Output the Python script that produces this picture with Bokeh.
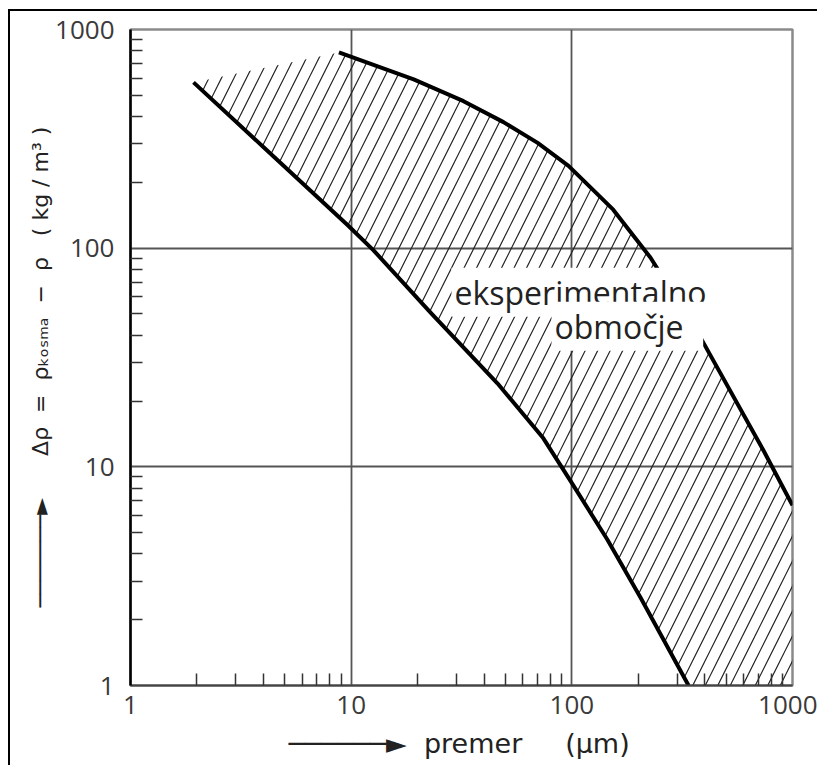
import math
from bokeh.plotting import figure
from bokeh.models import FixedTicker, Label, Title, Range1d, NumeralTickFormatter
from bokeh.embed import file_html
from bokeh.resources import INLINE

# ---- data ----
x_ticks = [1, 10, 100, 1000]
y_ticks = [1, 10, 100, 1000]
x_minor = [2, 3, 4, 5, 6, 7, 8, 9, 20, 30, 40, 50, 60, 70, 80, 90,
           200, 300, 400, 500, 600, 700, 800, 900]
y_minor = x_minor

# lower boundary of the experimental region
lower_x = [1.93, 4.0, 9.6, 12.6, 22.9, 46, 74.3, 98.6, 145, 205, 338]
lower_y = [573, 290, 128, 98, 50.7, 24.1, 13.5, 8.63, 4.64, 2.52, 1.0]
# upper boundary of the experimental region
upper_x = [8.8, 19.2, 32.3, 49, 70, 96.6, 154, 227, 371, 738, 1000]
upper_y = [785, 591, 470, 377, 303, 238, 150, 90.6, 41.3, 11.9, 6.67]

NB = "\u00a0"  # non-breaking space keeps the wide spacing of the original
region_label_1 = "eksperimentalno"
region_label_2 = "območje"
x_title = "──────►" + NB * 2 + "premer" + NB * 5 + "(μm)"
y_title = ("───────►" + NB * 6 + "Δρ" + NB * 2 + "=" + NB * 2 + "ρₖₒₛₘₐ" + NB * 2
           + "−" + NB * 2 + "ρ" + NB * 3 + "(" + NB + "kg" + NB + "/" + NB + "m³" + NB + ")")

# ---- layout (page pixels -> data coordinates of the log axes) ----
FX0, FX1, FY0, FY1 = 130.0, 792.0, 29.0, 688.0   # frame edges on the page


def px(xp):
    return 10 ** (3 * (xp - FX0) / (FX1 - FX0))


def py(yp):
    return 10 ** (3 * (FY1 - yp) / (FY1 - FY0))


W, H = 809, 756
p = figure(width=W, height=H, x_axis_type="log", y_axis_type="log",
           x_range=Range1d(1, 1000), y_range=Range1d(1, 1000),
           output_backend="svg", toolbar_location=None, title=None,
           min_border_left=120, min_border_right=27,
           min_border_top=18, min_border_bottom=79)
p.styles = {"margin-left": "8px", "margin-top": "9px",
            "border-left": "2px solid black", "border-top": "2px solid black"}

p.background_fill_color = "white"
p.border_fill_color = "white"
p.outline_line_color = "#8a8a8a"
p.outline_line_width = 2.5

for ax, ticks, minor in ((p.xaxis[0], x_ticks, x_minor), (p.yaxis[0], y_ticks, y_minor)):
    ax.ticker = FixedTicker(ticks=ticks, minor_ticks=minor)
    ax.formatter = NumeralTickFormatter(format="0")
    ax.major_tick_in = 0
    ax.major_tick_out = 0
    ax.minor_tick_in = 12
    ax.minor_tick_out = 0
    ax.minor_tick_line_color = "#333333"
    ax.minor_tick_line_width = 1.5
    ax.major_label_text_font = "Open Sans"
    ax.major_label_text_font_size = "26px"
    ax.major_label_text_color = "#3a3a3a"

p.yaxis.axis_line_color = "black"
p.yaxis.axis_line_width = 2.5
p.yaxis.major_label_standoff = 16
p.xaxis.axis_line_color = "#444444"
p.xaxis.axis_line_width = 2
p.xaxis.major_label_standoff = 10

p.grid.grid_line_color = "#555555"
p.grid.grid_line_width = 1.8

# hatched experimental region
poly_x = lower_x + [1000] + upper_x[::-1]
poly_y = lower_y + [1] + upper_y[::-1]
p.patch(poly_x, poly_y, fill_color=None, line_color=None,
        hatch_pattern="/", hatch_color="#222222", hatch_weight=1.2, hatch_scale=25)

p.line(lower_x, lower_y, line_width=4, color="black", line_join="round")
p.line(upper_x, upper_y, line_width=4, color="black", line_join="round")

# region text with white mask
for txt, lx, ly in ((region_label_1, 451, 293), (region_label_2 + NB * 2, 551, 327)):
    p.add_layout(Label(x=px(lx), y=py(ly), text=txt, text_align="left",
                       text_baseline="alphabetic", text_font="Open Sans",
                       text_font_size="32px", text_color="#222222",
                       background_fill_color="white", padding=3))

# axis titles (with arrows) in the side panels
p.add_layout(Title(text=y_title, align="left", offset=78, standoff=0,
                   text_font="DejaVu Sans", text_font_size="22px",
                   text_font_style="normal", text_color="#222222"), "left")
p.add_layout(Title(text=x_title, align="left", offset=158, standoff=18,
                   text_font="DejaVu Sans", text_font_size="27px",
                   text_font_style="normal", text_color="#222222"), "below")

open("out.html", "w").write(file_html(p, INLINE))
